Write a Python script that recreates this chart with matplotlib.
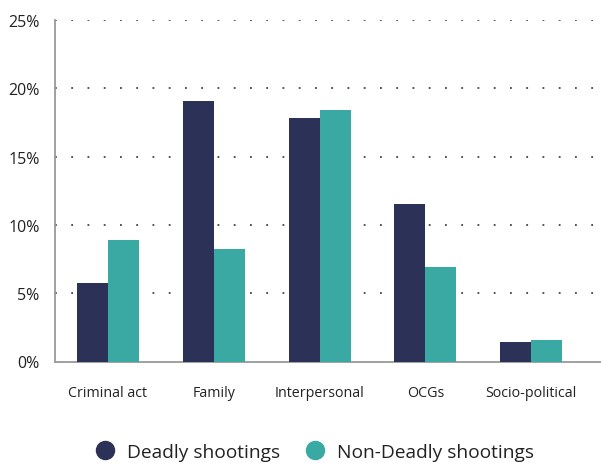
import matplotlib.pyplot as plt
import numpy as np
from matplotlib.lines import Line2D

categories = ["Criminal act", "Family", "Interpersonal", "OCGs", "Socio-political"]
deadly = [5.75, 19.1, 17.8, 11.5, 1.45]
non_deadly = [8.9, 8.2, 18.4, 6.9, 1.57]

navy = "#2b3157"
teal = "#3aa9a3"

plt.rcParams['font.family'] = ['Open Sans', 'DejaVu Sans']

fig = plt.figure(figsize=(6.01, 4.64), dpi=100)
ax = fig.add_axes([55/601, (464-362.5)/464, 546/601, (362.5-21)/464])

x = np.arange(len(categories))
w = 0.293
ax.bar(x - w/2, deadly, w, color=navy, zorder=3)
ax.bar(x + w/2, non_deadly, w, color=teal, zorder=3)

ax.set_xlim(-0.5, 4.66)
ax.set_ylim(0, 25)
ax.set_yticks([0, 5, 10, 15, 20, 25])
ax.set_yticklabels(["0%", "5%", "10%", "15%", "20%", "25%"], fontsize=11.5, color="#222222")
ax.set_xticks(x)
ax.set_xticklabels(categories, fontsize=10.3, color="#222222")
ax.tick_params(axis='y', length=0, pad=11)
ax.tick_params(axis='x', length=0, pad=17)

ax.yaxis.grid(True, linestyle=(0, (1, 8)), color="#444444", linewidth=1.3, zorder=0)
ax.get_ygridlines()[0].set_visible(False)
for s in ["top", "right"]:
    ax.spines[s].set_visible(False)
for s in ["left", "bottom"]:
    ax.spines[s].set_color("#999999")
    ax.spines[s].set_linewidth(1.3)

handles = [Line2D([], [], marker='o', linestyle='', markersize=13, color=navy),
           Line2D([], [], marker='o', linestyle='', markersize=13, color=teal)]
fig.legend(handles, ["Deadly shootings", "Non-Deadly shootings"], loc='center',
           bbox_to_anchor=(310/601, 1 - 453/464), ncol=2, frameon=False,
           fontsize=13.8, handletextpad=0.15, columnspacing=0.8, labelcolor="#222222")

fig.savefig("out.png", dpi=100)
